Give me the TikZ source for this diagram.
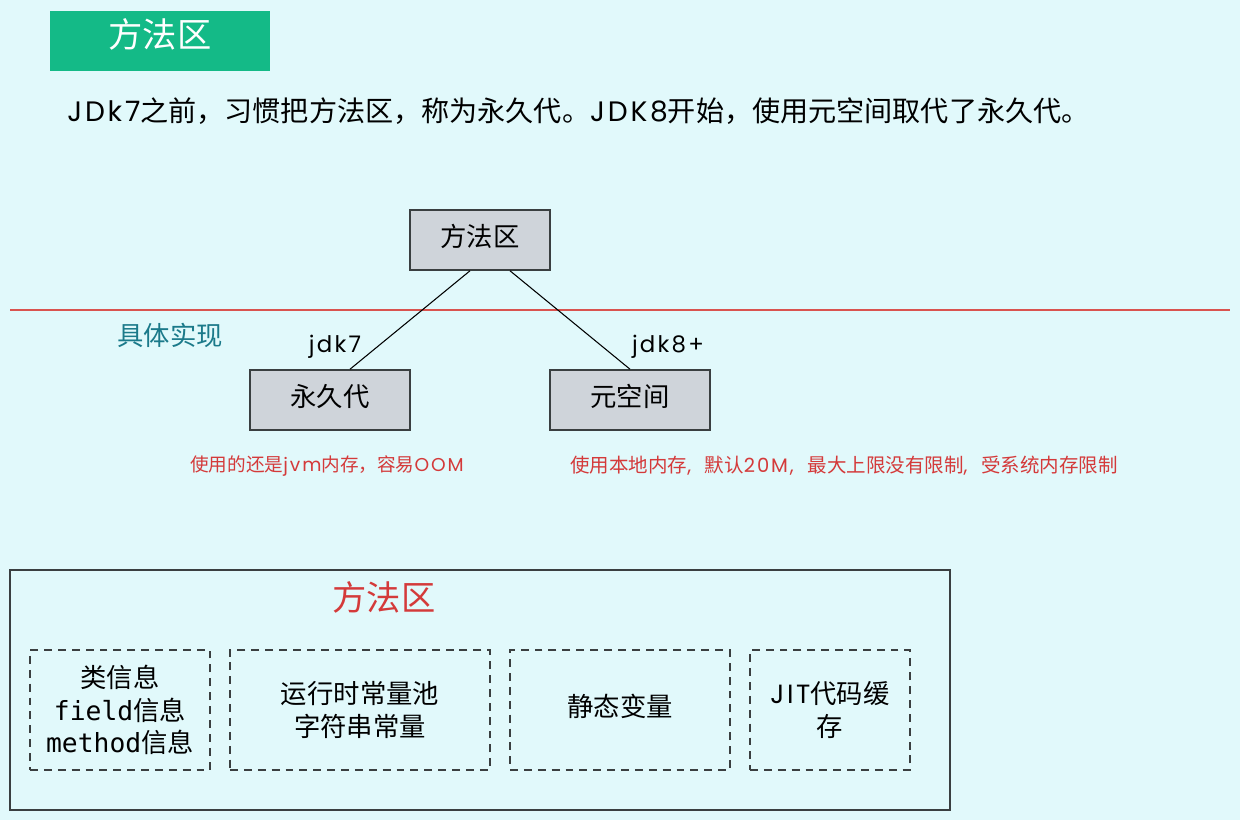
\documentclass[tikz,border=0pt]{standalone}
\usepackage{fontspec}
\setmainfont{Noto Sans CJK SC}
\newfontfamily\monofont{DejaVu Sans Mono}
\newfontfamily\handfont[LetterSpace=10]{Poppins}
\usetikzlibrary{calc}
\definecolor{bgcyan}{HTML}{E1F9FB}
\definecolor{titlegreen}{HTML}{14BA87}
\definecolor{boxgray}{HTML}{CFD4DA}
\definecolor{edgedark}{HTML}{3A3F40}
\definecolor{noteRed}{HTML}{D43A3A}
\definecolor{tealtext}{HTML}{1B7A8A}
\definecolor{splitred}{HTML}{D9534F}
% comma followed by a wide gap, as used in the notes
\newcommand{\wcomma}{{\handfont,}\hspace{0.7em}}
\begin{document}
\begin{tikzpicture}[x=0.02cm,y=-0.02cm,
  oneline/.style={text height=0.8em,text depth=0.04em},
  graybox/.style={draw=edgedark,line width=0.9pt,fill=boxgray,minimum width=3.2cm,minimum height=1.2cm,inner sep=0pt,oneline,font=\fontsize{15}{18}\selectfont},
  partbox/.style={draw=edgedark,line width=0.9pt,dash pattern=on 4.5pt off 3.4pt,minimum height=2.4cm,inner sep=0pt,align=center,font=\fontsize{15}{18.5}\selectfont},
  notetext/.style={text=noteRed,font=\fontsize{11.1}{13}\selectfont,inner sep=0pt,anchor=west},
  verlabel/.style={font=\handfont\fontsize{13}{15}\selectfont,inner sep=0pt},
  link/.style={draw=black,line width=0.6pt}]
  % background
  \fill[bgcyan] (0,0) rectangle (1240,820);
  \useasboundingbox (0,0) rectangle (1240,820);

  % heading
  \node[fill=titlegreen,minimum width=4.4cm,minimum height=1.2cm,inner sep=0pt,oneline,text=white,font=\fontsize{19.5}{22}\selectfont] (title) at (160,41) {方法区};

  % intro sentence
  \node[anchor=west,inner sep=0pt,font=\fontsize{16}{18}\selectfont] (intro) at (67,111) {{\handfont JDk7}之前，习惯把方法区，称为永久代。{\handfont JDK8}开始，使用元空间取代了永久代。};

  % divider
  \coordinate (divL) at (10,310);
  \coordinate (divR) at (1230,310);
  \draw[splitred,line width=0.9pt] (divL) -- (divR);
  \node[text=tealtext,font=\fontsize{15}{18}\selectfont,inner sep=0pt] (impl) at (170,335) {具体实现};

  % hierarchy
  \node[graybox,minimum width=2.8cm] (ma) at (480,240) {方法区};
  \node[graybox] (perm) at (330,400) {永久代};
  \node[graybox] (meta) at (630,400) {元空间};
  \draw[link] ($(ma.south)+(-10,0)$) -- ($(perm.north)+(20,0)$);
  \draw[link] ($(ma.south)+(30,0)$) -- (meta.north);
  \node[verlabel] (l7) at (335,347) {jdk7};
  \node[verlabel] (l8) at (668,347) {jdk8+};

  % notes
  \node[notetext,font=\fontsize{10.6}{13}\selectfont] (n7) at (190,466) {使用的还是{\handfont jvm}内存，容易{\handfont OOM}};
  \node[notetext] (n8) at (570,466) {使用本地内存\wcomma 默认{\handfont 20M}\wcomma 最大上限没有限制\wcomma 受系统内存限制};

  % method area contents
  \node[draw=edgedark,line width=0.9pt,minimum width=18.8cm,minimum height=4.8cm,inner sep=0pt] (area) at (480,690) {};
  \node[text=noteRed,font=\fontsize{19.5}{22}\selectfont,inner sep=0pt] (areaTitle) at (384,597) {方法区};
  \node[partbox,minimum width=3.6cm] (cls) at (120,710) {类信息\\{\monofont field}信息\\{\monofont method}信息};
  \node[partbox,minimum width=5.2cm] (pool) at (360,710) {运行时常量池\\字符串常量};
  \node[partbox,minimum width=4.4cm,oneline] (stat) at (620,710) {静态变量};
  \node[partbox,minimum width=3.2cm] (jit) at (830,710) {{\handfont JIT}代码缓\\存};
\end{tikzpicture}
\end{document}
